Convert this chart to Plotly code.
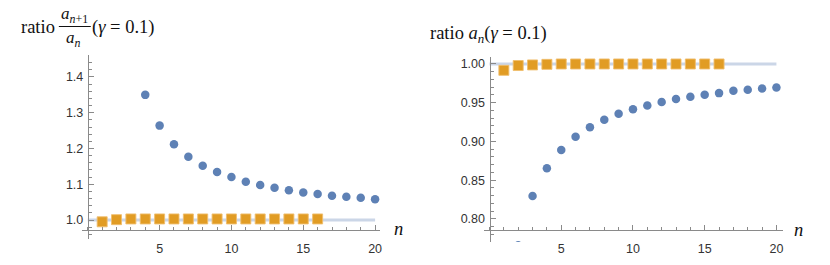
import plotly.graph_objects as go

W, H = 830, 265

# ---------------- data ----------------
n_left_blue = [4, 5, 6, 7, 8, 9, 10, 11, 12, 13, 14, 15, 16, 17, 18, 19, 20]
ratio_left_blue = [1.350, 1.264, 1.212, 1.177, 1.152, 1.134, 1.120, 1.107, 1.098,
                   1.090, 1.083, 1.077, 1.073, 1.068, 1.065, 1.062, 1.058]
n_left_orange = [1, 2, 3, 4, 5, 6, 7, 8, 9, 10, 11, 12, 13, 14, 15, 16]
ratio_left_orange = [0.995, 1.001, 1.003, 1.003, 1.003, 1.003, 1.003, 1.003,
                     1.003, 1.003, 1.003, 1.003, 1.003, 1.003, 1.003, 1.003]

n_right_blue = [2, 3, 4, 5, 6, 7, 8, 9, 10, 11, 12, 13, 14, 15, 16, 17, 18, 19, 20]
ratio_right_blue = [0.766, 0.8297, 0.8655, 0.889, 0.906, 0.9185, 0.928, 0.9357,
                    0.9417, 0.9464, 0.9508, 0.9547, 0.9576, 0.9602, 0.9624,
                    0.9654, 0.9667, 0.9684, 0.9697]
n_right_orange = [1, 2, 3, 4, 5, 6, 7, 8, 9, 10, 11, 12, 13, 14, 15, 16]
ratio_right_orange = [0.9918, 0.998, 0.9988, 0.9995, 1.0, 1.0, 1.0, 1.0,
                      1.0, 1.0, 1.0, 1.0, 1.0, 1.0, 1.0, 1.0]

ref_x = [0, 20]
ref_y = [1, 1]

x_tickvals = [5, 10, 15, 20]
left_y_tickvals = [1.0, 1.1, 1.2, 1.3, 1.4]
left_y_ticktext = ["1.0", "1.1", "1.2", "1.3", "1.4"]
right_y_tickvals = [0.80, 0.85, 0.90, 0.95, 1.00]
right_y_ticktext = ["0.80", "0.85", "0.90", "0.95", "1.00"]

# ---------------- style ----------------
BLUE = "#5E81B5"
ORANGE = "#E19C24"
REF = "rgba(94,129,181,0.32)"
AXIS = "#8a8a8a"
TICKFONT = dict(family="Liberation Sans, Arial, sans-serif", size=12.5, color="#333333")
SERIF = "Liberation Serif, Times New Roman, serif"


def px_x(p):
    return p / W


def px_y(p):
    return 1 - p / H


fig = go.Figure()

for xa, ya, nb, vb, no, vo in [
    ("x", "y", n_left_blue, ratio_left_blue, n_left_orange, ratio_left_orange),
    ("x2", "y2", n_right_blue, ratio_right_blue, n_right_orange, ratio_right_orange),
]:
    fig.add_trace(go.Scatter(x=ref_x, y=ref_y, mode="lines", xaxis=xa, yaxis=ya,
                             line=dict(color=REF, width=3), showlegend=False,
                             hoverinfo="skip"))
    fig.add_trace(go.Scatter(x=no, y=vo, mode="markers", xaxis=xa, yaxis=ya,
                             marker=dict(symbol="square", size=10, color=ORANGE,
                                         line=dict(color="rgba(240,190,110,0.9)", width=1)),
                             showlegend=False))
    fig.add_trace(go.Scatter(x=nb, y=vb, mode="markers", xaxis=xa, yaxis=ya,
                             marker=dict(symbol="circle", size=8.5, color=BLUE),
                             showlegend=False))


def xaxis_cfg(dom, rng, ypos):
    return dict(
        domain=[px_x(dom[0]), px_x(dom[1])], range=rng,
        anchor="free", position=ypos,
        showgrid=False, zeroline=False, showline=True, linecolor=AXIS, linewidth=1,
        tickmode="array", tickvals=x_tickvals, ticks="inside", ticklen=5,
        tickcolor=AXIS, tickwidth=1, tickfont=TICKFONT, ticklabelstandoff=7,
        minor=dict(tickmode="linear", tick0=0, dtick=1, ticks="inside", ticklen=3,
                   tickcolor=AXIS, showgrid=False),
    )


def yaxis_cfg(dom, rng, xpos, tv, tt, mdt):
    return dict(
        domain=[px_y(dom[1]), px_y(dom[0])], range=rng,
        anchor="free", position=xpos,
        showgrid=False, zeroline=False, showline=True, linecolor=AXIS, linewidth=1,
        tickmode="array", tickvals=tv, ticktext=tt, ticks="inside", ticklen=5,
        tickcolor=AXIS, tickwidth=1, tickfont=TICKFONT, ticklabelstandoff=2,
        minor=dict(tickmode="linear", tick0=0, dtick=mdt, ticks="inside", ticklen=3,
                   tickcolor=AXIS, showgrid=False),
    )


left_x_range = [-0.417, 20.347]
left_y_range = [0.9469, 1.4615]
right_x_range = [-0.396, 20.466]
right_y_range = [0.7703, 1.0094]

fig.update_layout(
    width=W, height=H,
    margin=dict(l=0, r=0, t=0, b=0),
    paper_bgcolor="white", plot_bgcolor="white",
    xaxis=xaxis_cfg((82, 381), left_x_range, px_y(230)),
    yaxis=yaxis_cfg((55, 239), left_y_range, px_x(88), left_y_tickvals, left_y_ticktext, 0.02),
    xaxis2=xaxis_cfg((485, 785), right_x_range, px_y(230)),
    yaxis2=yaxis_cfg((56.7, 242), right_y_range, px_x(490.7), right_y_tickvals,
                     right_y_ticktext, 0.01),
)

ann_font = dict(family=SERIF, size=18.5, color="#111111")
frac_font = dict(family=SERIF, size=17, color="#111111")
annotations = [
    # left title: ratio a_{n+1}/a_n (γ = 0.1)
    dict(text="ratio", x=px_x(19), y=px_y(27), xanchor="left", yanchor="middle",
         font=ann_font),
    dict(text="<i>a</i><sub><i>n</i>+1</sub>", x=px_x(75), y=px_y(27), xanchor="center",
         yanchor="bottom", font=frac_font, borderpad=0),
    dict(text="<i>a</i><sub><i>n</i></sub>", x=px_x(74), y=px_y(27), xanchor="center",
         yanchor="top", font=frac_font, borderpad=0),
    dict(text="(<i>γ</i> = 0.1)", x=px_x(90), y=px_y(28), xanchor="left", yanchor="middle",
         font=ann_font),
    # right title
    dict(text="ratio <i>a</i><sub><i>n</i></sub>(<i>γ</i> = 0.1)", x=px_x(429), y=px_y(35),
         xanchor="left", yanchor="middle", font=ann_font),
    # axis labels
    dict(text="<i>n</i>", x=px_x(399), y=px_y(229), xanchor="center", yanchor="middle",
         font=ann_font),
    dict(text="<i>n</i>", x=px_x(800), y=px_y(230), xanchor="center", yanchor="middle",
         font=ann_font),
]
for a in annotations:
    a.update(xref="paper", yref="paper", showarrow=False)
fig.update_layout(annotations=annotations)

fig.add_shape(type="line", xref="paper", yref="paper",
              x0=px_x(59), x1=px_x(91), y0=px_y(26.5), y1=px_y(26.5),
              line=dict(color="#111111", width=1))

# remove the browser's default 8px body margin so the figure fills the window
fig.write_html("out.html", config={"displayModeBar": False},
               post_script="document.body.style.margin='0';")
